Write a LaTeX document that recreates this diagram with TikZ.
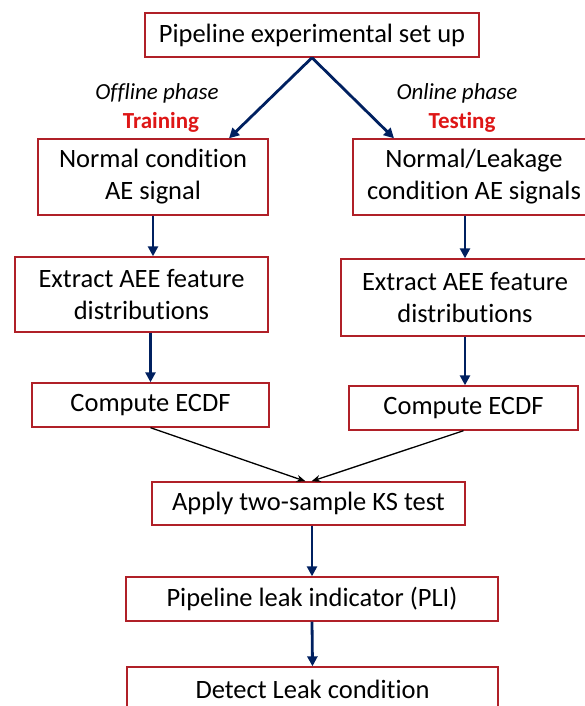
\documentclass[tikz,border=0pt]{standalone}
\usepackage{fontspec}
\setmainfont{Carlito}[RawFeature={-liga;-clig;-calt;-dlig}]
\usepackage{tikz}
\usetikzlibrary{arrows.meta}
\definecolor{boxred}{RGB}{176,32,40}
\definecolor{arrnavy}{RGB}{0,32,96}
\definecolor{phasered}{RGB}{222,22,22}
\tikzset{
  procbox/.style  = {draw=boxred, line width=1.4pt, fill=white, inner sep=0pt,
                     align=center, font=\fontsize{26.5}{32}\selectfont},
  flowar/.style   = {-{Triangle[length=10pt,width=10pt]}, arrnavy, line width=2.8pt},
  mergear/.style  = {-{Stealth[length=9pt,width=7pt]}, black, line width=1.3pt},
  phaselbl/.style = {font=\fontsize{23}{27}\selectfont\itshape},
  phasehd/.style  = {font=\fontsize{23}{27}\selectfont\bfseries, text=phasered}
}
\begin{document}
\begin{tikzpicture}[x=1pt,y=-1pt]
  \useasboundingbox (0,0) rectangle (585,706);
  \node[procbox, minimum width=334pt, minimum height=44pt] (setup) at (312,35) {Pipeline experimental set up};
  \node[phaselbl] (offl) at (157,93)  {Offline phase};
  \node[phasehd]  (trn)  at (161,122) {Training};
  \node[phaselbl] (onl)  at (457,93)  {Online phase};
  \node[phasehd]  (tst)  at (462,122) {Testing};
  \node[procbox, minimum width=230pt, minimum height=76pt] (norm) at (153,177) {Normal condition\\AE signal};
  \node[procbox, minimum width=242pt, minimum height=76pt] (leak) at (474,177) {Normal/Leakage\\condition AE signals};
  \node[procbox, minimum width=253pt, minimum height=75pt] (ext1) at (141.5,294.5) {Extract AEE feature\\distributions};
  \node[procbox, minimum width=248pt, minimum height=77pt] (ext2) at (465,297.5) {Extract AEE feature\\distributions};
  \node[procbox, minimum width=237pt, minimum height=44pt] (ecdf1) at (150.5,405) {Compute ECDF};
  \node[procbox, minimum width=229pt, minimum height=44pt] (ecdf2) at (463.5,408) {Compute ECDF};
  \node[procbox, minimum width=313pt, minimum height=43pt] (ks) at (308.5,503.5) {Apply two-sample KS test};
  \node[procbox, minimum width=372pt, minimum height=44pt] (pli) at (312,599) {Pipeline leak indicator (PLI)};
  \node[procbox, minimum width=371pt, minimum height=44pt] (det) at (312.5,689) {Detect Leak condition};
  % split into the two phases
  \draw[flowar] (setup.south) -- ([xshift=76pt]norm.north);
  \draw[flowar] (setup.south) -- ([xshift=-80pt]leak.north);
  % left column
  \draw[flowar] (norm.south) -- (norm.south |- ext1.north);
  \draw[flowar] (ecdf1.north |- ext1.south) -- (ecdf1.north);
  % right column
  \draw[flowar] (ext2.north |- leak.south) -- (ext2.north);
  \draw[flowar] (ext2.south) -- (ext2.south |- ecdf2.north);
  % merge and test
  \draw[mergear] (ecdf1.south) -- ([xshift=-3pt]ks.north);
  \draw[mergear] (ecdf2.south) -- ([xshift=3pt]ks.north);
  \draw[flowar] (pli.north |- ks.south) -- (pli.north);
  \draw[flowar] (pli.south) -- (det.north);
\end{tikzpicture}
\end{document}
